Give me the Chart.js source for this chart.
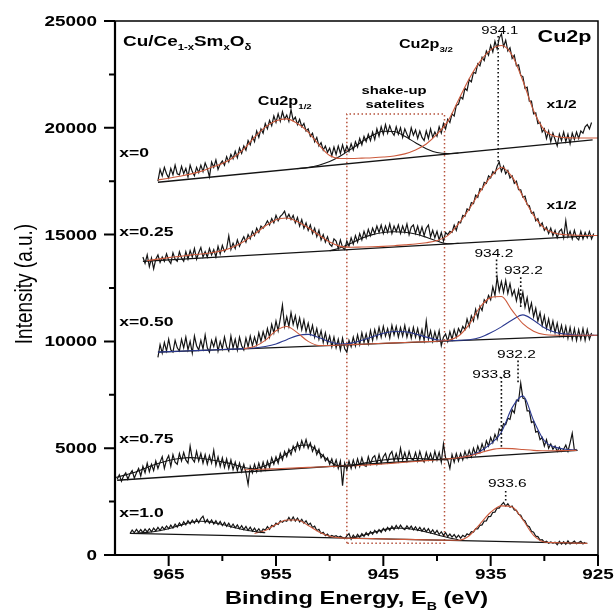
<!DOCTYPE html>
<html>
<head>
<meta charset="utf-8">
<script src="https://cdn.jsdelivr.net/npm/chart.js@4.4.1/dist/chart.umd.min.js"></script>
<style>
  html, body { margin: 0; padding: 0; background: #fff; }
  #wrap { width: 616px; height: 613px; }
</style>
</head>
<body>
<div id="wrap"><canvas id="xps" width="616" height="613"></canvas></div>
<script>
// Cu2p XPS spectra of Cu/Ce(1-x)Sm(x)O(delta) for five Sm contents.
// Energies in eV (axis runs high -> low), intensity in a.u.

// --- axis ticks ---
const xMajor = [965, 955, 945, 935, 925];
const xMinor = [960, 950, 940, 930];
const yMajor = [0, 5000, 10000, 15000, 20000, 25000];
const yMinor = [2500, 7500, 12500, 17500, 22500];

// --- raw spectra, sampled every 0.2 eV from the start energy downwards ---
const RAW_STEP = 0.2;

const raw0Start = 966.0;
const raw0 = [
  17500, 18050, 17750, 18150, 17850, 17650, 18100, 17800, 18250, 17850,
  17800, 18200, 17850, 18100, 17700, 18250, 17950, 17750, 18150, 17900,
  18250, 17950, 18350, 18100, 17700, 18400, 18150, 18500, 18050, 18300,
  18450, 18250, 18650, 18400, 18750, 18550, 18900, 18600, 19050, 18800,
  19150, 18950, 19400, 19200, 19600, 19350, 19850, 19550, 19950, 19750,
  20200, 19950, 20350, 20100, 20550, 20250, 20650, 20300, 20750, 20400,
  20600, 20300, 20850, 20350, 20500, 20150, 20400, 20050, 20200, 19850,
  19950, 19600, 19750, 19350, 19550, 19150, 19300, 18950, 19150, 18850,
  19050, 18700, 19100, 18750, 19150, 18800, 19200, 18850, 19150, 18900,
  19250, 18950, 19350, 19100, 19500, 19200, 19600, 19350, 19700, 19400,
  19800, 19450, 19950, 19600, 20050, 19700, 20150, 19750, 20100, 19800,
  19650, 20050, 19700, 20000, 19550, 19950, 19700, 19500, 20000, 19650,
  19900, 19500, 19850, 19550, 19400, 19850, 19500, 19950, 19550, 19800,
  19600, 20050, 19750, 20200, 19950, 20400, 20250, 20650, 20550, 21050,
  21100, 21450, 21350, 21850, 21750, 22250, 22150, 22600, 22550, 23000,
  22900, 23300, 23150, 23600, 23400, 23850, 23550, 24050, 23700, 24200,
  24400, 23800, 24100, 23600, 23750, 23250, 23400, 22900, 22950, 22450,
  22400, 21850, 21900, 21250, 21250, 20650, 20700, 20200, 20250, 19800,
  19950, 19500, 19850, 19350, 19750, 19450, 19150, 19700, 19400, 19800,
  19350, 19700, 19250, 19750, 19450, 19800, 19500, 19850, 19750, 20050,
  20150, 19950, 20250
];

const raw25Start = 967.4;
const raw25 = [
  13950, 13650, 14050, 13500, 13900, 13400, 13850, 14050, 13700, 13950,
  13750, 14100, 13800, 13650, 14150, 13850, 13750, 14200, 13900, 13750,
  14200, 13850, 14250, 13950, 14350, 13850, 14150, 14400, 13950, 14200,
  13950, 14350, 14050, 14300, 13950, 14450, 14100, 14500, 14200, 14350,
  14950, 14300, 14600, 14350, 14750, 14450, 14700, 14900, 14650, 15000,
  14800, 15150, 14950, 15300, 15100, 15400, 15300, 15450, 15650, 15450,
  15750, 15550, 15900, 15650, 15850, 15950, 16100, 15750, 15950, 15700,
  15900, 15550, 15800, 15400, 15700, 15300, 15550, 15200, 15450, 15050,
  15300, 14900, 15200, 14750, 15000, 14650, 14900, 14550, 14450, 14800,
  14700, 14350, 14750, 14400, 14300, 14700, 14450, 14850, 14550, 14950,
  14650, 15050, 14750, 15150, 14850, 15250, 14950, 15300, 15050, 15400,
  15100, 15450, 15050, 15400, 15100, 15500, 15050, 15400, 15150, 15450,
  15050, 15400, 15100, 15500, 15000, 15350, 15450, 15050, 15400, 15000,
  15350, 14950, 15300, 15450, 14900, 15200, 14850, 15150, 14750, 15100,
  14700, 15100, 15000, 15150, 15100, 15450, 15200, 15600, 15550, 15900,
  15850, 16200, 16150, 16500, 16450, 16850, 16750, 17150, 17100, 17450,
  17400, 17750, 17650, 17950, 17850, 18200, 18400, 17950, 18200, 17850,
  18000, 17650, 17750, 17400, 17500, 17100, 17100, 16750, 16800, 16400,
  16350, 16000, 16050, 15650, 15750, 15400, 15550, 15200, 15350, 15050,
  15300, 14950, 15200, 14850, 15150, 15250, 14850, 15650, 14900, 15150,
  14800, 15200, 14850, 14750, 15150, 14800, 15100, 14850, 15150, 14800,
  15050
];

const raw50Start = 966.0;
const raw50 = [
  9250, 9850, 9450, 9950, 9550, 10100, 9600, 9500, 10050, 9700,
  9550, 10100, 9700, 10200, 9600, 10000, 9450, 10250, 9800, 9600,
  10050, 9650, 10300, 9700, 9500, 10050, 9750, 10150, 9550, 10000,
  9650, 10200, 9750, 9550, 10250, 9700, 10100, 9600, 10200, 9800,
  9600, 10150, 9750, 10250, 9800, 10200, 9850, 10400, 10000, 10450,
  10100, 10600, 10200, 10800, 10400, 10950, 10500, 11050, 11700, 10700,
  11150, 10700, 11350, 10800, 11200, 10650, 11100, 10550, 11000, 10450,
  10850, 10350, 10750, 10200, 10600, 10100, 10500, 9950, 10400, 9900,
  10250, 9750, 10200, 9700, 10100, 9600, 10150, 9650, 9500, 10050,
  9750, 10200, 9800, 10300, 9850, 10400, 9950, 10350, 9900, 10500,
  10050, 10550, 10150, 10650, 10200, 10700, 10250, 10600, 10150, 10750,
  10300, 10700, 10200, 10650, 10250, 10750, 10200, 10600, 10150, 10650,
  10200, 10600, 10100, 10550, 10050, 10950, 10100, 10500, 10000, 10450,
  10050, 10500, 9800, 10200, 10350, 10000, 10450, 10100, 10550, 10200,
  10600, 10400, 10700, 10550, 11050, 10700, 11200, 10950, 11500, 11100,
  11650, 11450, 11950, 11800, 12150, 11950, 12550, 12150, 13000, 12350,
  12800, 12300, 12850, 12250, 12700, 12150, 12400, 11900, 12400, 11800,
  12300, 11600, 12050, 11400, 11800, 11150, 11550, 10950, 11350, 10750,
  11200, 10600, 11050, 10500, 10950, 10400, 10850, 10300, 10750, 10250,
  10700, 10150, 10650, 10100, 10600, 10050, 10550, 10100, 10600, 10050,
  10550, 10100, 10400
];

const raw75Start = 969.8;
const raw75 = [
  3550, 3750, 3450, 3700, 3850, 3550, 3800, 3950, 3600, 3850,
  4050, 3700, 4150, 3850, 4300, 3900, 4250, 3950, 4400, 4050,
  4350, 4600, 4050, 4450, 4650, 4150, 4700, 4350, 4250, 4750,
  4400, 4800, 4450, 4300, 5100, 4500, 4350, 4850, 4400, 4750,
  4300, 4700, 4250, 4650, 4300, 4900, 4200, 4600, 4150, 4550,
  4100, 4500, 4050, 4450, 4000, 4350, 3950, 4300, 3900, 4250,
  3850, 3300, 4150, 3850, 4250, 3900, 4300, 3950, 4350, 4000,
  4400, 4100, 4550, 4250, 4600, 4300, 4750, 4450, 4850, 4600,
  4950, 4700, 5100, 4850, 5250, 4950, 5350, 5050, 5400, 5000,
  5250, 4850, 5100, 4700, 4950, 4550, 4700, 4400, 4550, 4250,
  4500, 4150, 4450, 4050, 4400, 3250, 4300, 4000, 4400, 4050,
  4450, 4100, 4500, 4150, 4550, 4200, 4150, 4600, 4250, 4550,
  4650, 4250, 4700, 4300, 4600, 4750, 4350, 4700, 4850, 4400,
  4750, 4400, 5000, 4450, 4800, 4400, 4850, 4500, 4450, 4800,
  4400, 4850, 4500, 4350, 4800, 4450, 4750, 4400, 4850, 4450,
  4800, 4350, 5200, 4550, 4450, 4050, 4700, 4350, 4750, 4400,
  4750, 4450, 4850, 4550, 4900, 4600, 5000, 4700, 5100, 4800,
  5200, 4900, 5350, 5100, 5500, 5250, 5650, 5400, 5900, 5800,
  6150, 6100, 6400, 6350, 6800, 6650, 7250, 7200, 8050, 7350,
  7300, 6750, 6750, 6200, 6250, 5750, 5800, 5400, 5500, 5100,
  5400, 5000, 5200, 4950, 5100, 4850, 5050, 4850, 4950, 5150,
  4850, 5250, 5700, 4900, 4950
];

const raw100Start = 968.6;
const raw100 = [
  1000, 1170, 1040, 1200, 1060, 1190, 1050, 1210, 1080, 1230,
  1090, 1260, 1130, 1290, 1150, 1320, 1200, 1360, 1230, 1400,
  1260, 1450, 1310, 1500, 1360, 1560, 1410, 1610, 1460, 1630,
  1490, 1680, 1510, 1700, 1820, 1520, 1670, 1480, 1640, 1450,
  1610, 1420, 1570, 1380, 1530, 1340, 1490, 1300, 1450, 1270,
  1410, 1230, 1370, 1190, 1340, 1150, 1300, 1120, 1260, 1090,
  1230, 1060, 1220, 1170, 1330, 1200, 1390, 1330, 1490, 1430,
  1600, 1530, 1620, 1580, 1760, 1600, 1780, 1590, 1730, 1550,
  1670, 1490, 1600, 1410, 1490, 1290, 1350, 1150, 1200, 1010,
  1060, 910, 980, 850, 920, 860, 900, 830, 880, 820,
  760, 900, 1000, 740, 930, 790, 970, 830, 1000, 870,
  1050, 920, 1100, 970, 1150, 1020, 1190, 1060, 1250, 1120,
  1290, 1150, 1350, 1190, 1380, 1230, 1400, 1250, 1190, 1360,
  1220, 1350, 1180, 1320, 1150, 1290, 1120, 1260, 1090, 1230,
  1040, 1180, 1000, 1150, 960, 1090, 920, 1050, 860, 980,
  840, 960, 800, 930, 790, 920, 850, 990, 940, 1090,
  1070, 1230, 1220, 1390, 1410, 1590, 1600, 1800, 1810, 2000,
  2010, 2200, 2190, 2350, 2460, 2290, 2400, 2240, 2290, 2110,
  2090, 1910, 1860, 1660, 1600, 1380, 1330, 1110, 1070, 880,
  860, 700, 720, 600, 650, 550, 610, 560, 600, 480,
  640, 510, 620, 500, 660, 520, 570, 650, 530, 580,
  640, 520, 600
];

// --- fitted components, sampled every 1 eV from the start energy downwards ---
const FIT_STEP = 1;

const fit0RedStart = 966;
const fit0Red = [
  17560, 17640, 17730, 17830, 17960, 18150, 18330, 18600, 19000, 19560,
  20030, 20330, 20420, 20200, 19800, 19200, 18700, 18560, 18560, 18580,
  18600, 18630, 18680, 18780, 18960, 19240, 19700, 20300, 21300, 22300,
  23100, 23650, 23850, 23400, 22200, 20800, 19900, 19600, 19540, 19520,
  19520, 19520
];
const fit0SatStart = 953;
const fit0Sat = [18090, 18140, 18250, 18420, 18680, 19000, 19350, 19650, 19840, 19830, 19600, 19300, 19020, 18840, 18790, 18820];

const fit25RedStart = 967;
const fit25Red = [
  13780, 13850, 13920, 13980, 14040, 14090, 14150, 14250, 14420, 14680,
  15020, 15400, 15700, 15780, 15600, 15320, 14980, 14650, 14450, 14410,
  14420, 14430, 14450, 14480, 14520, 14560, 14620, 14720, 14950, 15500,
  16200, 17000, 17700, 18150, 17700, 16800, 15900, 15300, 15060, 14990,
  14970, 14960, 14955
];
const fit25SatStart = 950;
const fit25Sat = [14240, 14380, 14600, 14830, 15000, 15100, 15130, 15110, 15030, 14880, 14700, 14570, 14590];

const fit50RedStart = 958;
const fit50Red = [
  9660, 9760, 10050, 10500, 10700, 10400, 10000, 9810, 9810, 9830,
  9850, 9870, 9890, 9910, 9930, 9950, 9970, 9990, 10010, 10050,
  10250, 10800, 11600, 12050, 12100, 11450, 10830, 10480, 10320, 10290,
  10290, 10290, 10290, 10290
];
const fit50BlueStart = 966;
const fit50Blue = [
  9500, 9520, 9540, 9560, 9580, 9600, 9620, 9640, 9660, 9690,
  9760, 9880, 10080, 10270, 10330, 10180, 9980, 9880, 9920, 10050,
  10220, 10380, 10460, 10450, 10350, 10200, 10080, 10030, 10050, 10080,
  10180, 10400, 10680, 11000, 11240, 10990, 10640, 10430, 10340, 10300,
  10290, 10290
];

const fit75BlackStart = 970;
const fit75Black = [
  3620, 3750, 3900, 4100, 4280, 4420, 4520, 4560, 4530, 4450,
  4360, 4250, 4100, 4040, 4180, 4420, 4750, 5100, 5150, 4800,
  4380, 4150, 4180, 4280, 4380, 4450, 4500, 4520, 4520, 4500,
  4470, 4450
];
const fit75RedStart = 958;
const fit75Red = [
  3990, 4000, 4020, 4040, 4060, 4080, 4100, 4120, 4140, 4160,
  4180, 4200, 4230, 4260, 4300, 4340, 4380, 4420, 4460, 4500,
  4550, 4640, 4780, 4920, 4990, 4980, 4940, 4900, 4880, 4880,
  4890, 4900
];
const fit75BlueStart = 938;
const fit75Blue = [4550, 4650, 4850, 5200, 5750, 6900, 7450, 6300, 5350, 5050, 4950, 4910];

const fit100HumpStart = 968;
const fit100Hump = [1030, 1060, 1120, 1230, 1380, 1520, 1580, 1540, 1430, 1300, 1180, 1100, 1040];
const fit100RedStart = 957;
const fit100Red = [
  1010, 1150, 1430, 1640, 1640, 1380, 1080, 880, 800, 785,
  775, 765, 755, 740, 730, 720, 710, 700, 690, 690,
  900, 1450, 2000, 2300, 2250, 1650, 920, 610, 580, 570,
  555, 545
];
const fit100SatStart = 948;
const fit100Sat = [790, 900, 1050, 1180, 1260, 1250, 1180, 1080, 950, 820, 720];

// --- linear backgrounds: end points ---
const base0E = [966, 925.5], base0I = [17450, 19430];
const base25E = [967.4, 925.4], base25I = [13750, 14950];
const base50E = [966, 925.4], base50I = [9500, 10280];
const base75E = [969.8, 926.9], base75I = [3500, 4900];
const base100E = [968.6, 926.0], base100I = [1010, 545];

// --- peak position markers (dotted verticals) ---
const markE = [934.3, 934.45, 932.2, 934.0, 932.45, 933.6];
const markTop = [24300, 13830, 13000, 8330, 9100, 3000];
const markBottom = [18300, 12950, 11530, 4990, 8050, 2490];

// --- shake-up satellite window ---
const boxE = [948.4, 948.4, 939.3, 939.3, 948.4];
const boxI = [550, 20650, 20650, 550, 550];

const FONT = '"Liberation Sans", Arial, sans-serif';
const SX = 1.35; // the figure is stretched sideways

const onGrid = (start, step, vals) =>
  vals.map((v, i) => ({ x: Math.round((start - i * step) * 100) / 100, y: v }));
const pairs = (es, is) => es.map((e, i) => ({ x: e, y: is[i] }));

const RED = '#cc5a3c';
const BLUE = '#2b3990';
const INK = '#141414';

const rawSet = (start, vals) => ({
  data: onGrid(start, RAW_STEP, vals), borderColor: INK, borderWidth: 1.2, tension: 0, order: 3
});
const fitSet = (start, vals, color) => ({
  data: onGrid(start, FIT_STEP, vals), borderColor: color, borderWidth: 1.1,
  cubicInterpolationMode: 'monotone', order: 1
});
const baseSet = (es, is) => ({ data: pairs(es, is), borderColor: INK, borderWidth: 1.3, order: 2 });

const datasets = [
  { data: pairs(boxE, boxI), borderColor: '#b5523b', borderWidth: 1.5, borderDash: [1.5, 2.5], order: 5 },
  ...markE.map((e, i) => ({
    data: pairs([e, e], [markTop[i], markBottom[i]]),
    borderColor: '#111', borderWidth: 1.6, borderDash: [1.6, 2.4], order: 0
  })),
  rawSet(raw0Start, raw0), rawSet(raw25Start, raw25), rawSet(raw50Start, raw50),
  rawSet(raw75Start, raw75), rawSet(raw100Start, raw100),
  baseSet(base0E, base0I), baseSet(base25E, base25I), baseSet(base50E, base50I),
  baseSet(base75E, base75I), baseSet(base100E, base100I),
  fitSet(fit0RedStart, fit0Red, RED), fitSet(fit0SatStart, fit0Sat, INK),
  fitSet(fit25RedStart, fit25Red, RED), fitSet(fit25SatStart, fit25Sat, INK),
  fitSet(fit50RedStart, fit50Red, RED), fitSet(fit50BlueStart, fit50Blue, BLUE),
  fitSet(fit75BlackStart, fit75Black, INK), fitSet(fit75RedStart, fit75Red, RED),
  fitSet(fit75BlueStart, fit75Blue, BLUE),
  fitSet(fit100HumpStart, fit100Hump, INK), fitSet(fit100RedStart, fit100Red, RED),
  fitSet(fit100SatStart, fit100Sat, INK)
];

// text notes placed in data coordinates: parts are [text, isSubscript]
const notes = [
  { parts: [['Cu/Ce', 0], ['1-x', 1], ['Sm', 0], ['x', 1], ['O', 0], ['\u03b4', 1]], e: 969.25, i: 23830, size: 14, bold: true, align: 'left' },
  { parts: [['Cu2p', 0]], e: 925.6, i: 24030, size: 16, bold: true, align: 'right' },
  { parts: [['Cu2p', 0], ['3/2', 1]], e: 943.55, i: 23750, size: 12, bold: true, align: 'left' },
  { parts: [['Cu2p', 0], ['1/2', 1]], e: 956.7, i: 21075, size: 12, bold: true, align: 'left' },
  { parts: [['shake-up', 0]], e: 944.0, i: 21600, size: 11, bold: true, align: 'center' },
  { parts: [['satelites', 0]], e: 943.9, i: 20950, size: 11, bold: true, align: 'center' },
  { parts: [['934.1', 0]], e: 934.15, i: 24390, size: 11, bold: false, align: 'center' },
  { parts: [['x1/2', 0]], e: 929.8, i: 20920, size: 11.5, bold: true, align: 'left' },
  { parts: [['x1/2', 0]], e: 929.8, i: 16200, size: 11.5, bold: true, align: 'left' },
  { parts: [['x=0', 0]], e: 969.6, i: 18610, size: 13, bold: true, align: 'left' },
  { parts: [['x=0.25', 0]], e: 969.6, i: 14950, size: 13, bold: true, align: 'left' },
  { parts: [['x=0.50', 0]], e: 969.6, i: 10715, size: 13, bold: true, align: 'left' },
  { parts: [['x=0.75', 0]], e: 969.6, i: 5250, size: 13, bold: true, align: 'left' },
  { parts: [['x=1.0', 0]], e: 969.6, i: 1760, size: 13, bold: true, align: 'left' },
  { parts: [['934.2', 0]], e: 934.7, i: 13970, size: 11.5, bold: false, align: 'center' },
  { parts: [['932.2', 0]], e: 931.95, i: 13165, size: 11.5, bold: false, align: 'center' },
  { parts: [['932.2', 0]], e: 932.6, i: 9240, size: 11.5, bold: false, align: 'center' },
  { parts: [['933.8', 0]], e: 934.9, i: 8270, size: 11.5, bold: false, align: 'center' },
  { parts: [['933.6', 0]], e: 933.45, i: 3165, size: 11.5, bold: false, align: 'center' }
];

function richText(ctx, parts, px, py, size, bold, align, sx) {
  const fontFor = sub => `${bold ? 'bold ' : ''}${sub ? size * 0.6 : size}px ${FONT}`;
  ctx.save();
  ctx.translate(px, py);
  ctx.scale(sx, 1);
  ctx.textAlign = 'left';
  ctx.textBaseline = 'alphabetic';
  let w = 0;
  parts.forEach(([t, sub]) => { ctx.font = fontFor(sub); w += ctx.measureText(t).width; });
  let cx = align === 'center' ? -w / 2 : align === 'right' ? -w : 0;
  parts.forEach(([t, sub]) => {
    ctx.font = fontFor(sub);
    ctx.fillText(t, cx, sub ? size * 0.32 : 0);
    cx += ctx.measureText(t).width;
  });
  ctx.restore();
}

const decor = {
  id: 'decor',
  afterDraw(chart) {
    const { ctx, chartArea: a, scales: { x, y } } = chart;
    ctx.save();
    ctx.fillStyle = '#000';
    ctx.strokeStyle = '#000';

    // frame: heavier on the two axes
    ctx.lineWidth = 1.5;
    ctx.strokeRect(a.left, a.top, a.right - a.left, a.bottom - a.top);
    ctx.lineWidth = 2.2;
    ctx.beginPath();
    ctx.moveTo(a.left, a.top);
    ctx.lineTo(a.left, a.bottom);
    ctx.lineTo(a.right, a.bottom);
    ctx.stroke();

    // tick marks, outside the frame
    ctx.lineWidth = 2;
    ctx.beginPath();
    yMajor.forEach(v => { const p = y.getPixelForValue(v); ctx.moveTo(a.left - 11, p); ctx.lineTo(a.left, p); });
    yMinor.forEach(v => { const p = y.getPixelForValue(v); ctx.moveTo(a.left - 6, p); ctx.lineTo(a.left, p); });
    xMajor.forEach(v => { const p = x.getPixelForValue(v); ctx.moveTo(p, a.bottom); ctx.lineTo(p, a.bottom + 11); });
    xMinor.forEach(v => { const p = x.getPixelForValue(v); ctx.moveTo(p, a.bottom); ctx.lineTo(p, a.bottom + 6); });
    ctx.stroke();

    // tick labels
    yMajor.forEach(v => richText(ctx, [[String(v), 0]], a.left - 18, y.getPixelForValue(v) + 5, 14, true, 'right', SX));
    xMajor.forEach(v => richText(ctx, [[String(v), 0]], x.getPixelForValue(v), a.bottom + 24, 14, true, 'center', SX));

    // axis titles
    richText(ctx, [['Binding Energy, E', 0], ['B', 1], [' (eV)', 0]], (a.left + a.right) / 2, a.bottom + 49, 17.5, true, 'center', SX);
    ctx.save();
    ctx.translate(a.left - 83, 284);
    ctx.rotate(-Math.PI / 2);
    ctx.scale(1, 1.3);
    ctx.font = `19px ${FONT}`;
    ctx.textAlign = 'center';
    ctx.textBaseline = 'alphabetic';
    ctx.fillText('Intensity (a.u.)', 0, 0);
    ctx.restore();

    // annotations
    notes.forEach(n => richText(ctx, n.parts, x.getPixelForValue(n.e), y.getPixelForValue(n.i), n.size, n.bold, n.align, SX));
    ctx.restore();
  }
};

new Chart(document.getElementById('xps'), {
  type: 'line',
  data: { datasets },
  options: {
    responsive: false,
    animation: false,
    elements: { point: { radius: 0 }, line: { fill: false } },
    layout: { padding: { top: 21, right: 18, left: 0, bottom: 0 } },
    plugins: { legend: { display: false }, tooltip: { enabled: false } },
    scales: {
      x: {
        type: 'linear', min: 925, max: 970, reverse: true,
        ticks: { display: false, stepSize: 5 },
        grid: { display: false }, border: { display: false },
        afterFit: s => { s.height = 58; }
      },
      y: {
        type: 'linear', min: 0, max: 25000,
        ticks: { display: false, stepSize: 2500 },
        grid: { display: false }, border: { display: false },
        afterFit: s => { s.width = 115; }
      }
    }
  },
  plugins: [decor]
});
</script>
</body>
</html>
